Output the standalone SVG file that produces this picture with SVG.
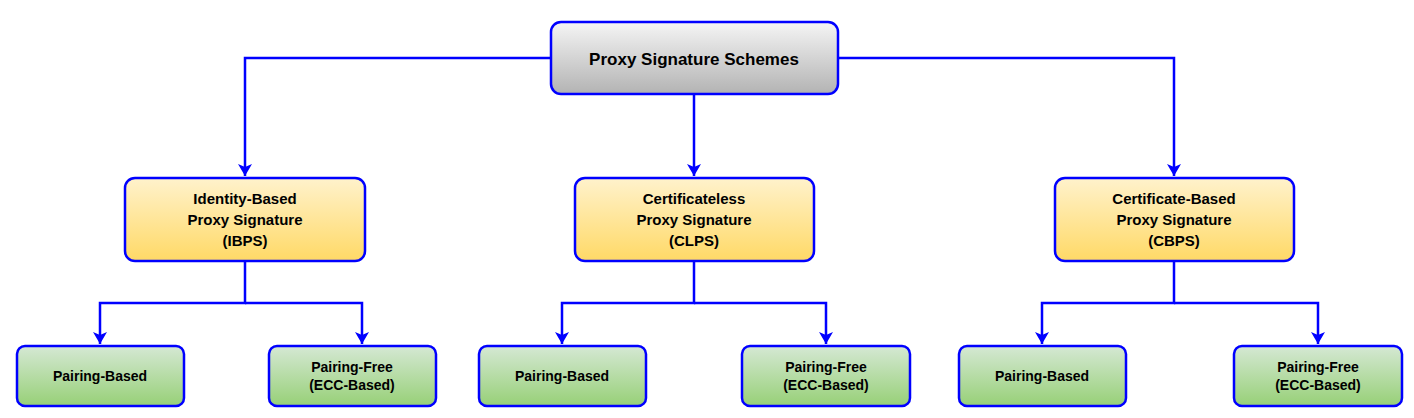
<svg xmlns="http://www.w3.org/2000/svg" width="1414" height="418" viewBox="0 0 1414 418">
<defs>
<linearGradient id="gGray" x1="0" y1="0" x2="0" y2="1"><stop offset="0" stop-color="#f5f5f5"/><stop offset="1" stop-color="#b3b3b3"/></linearGradient>
<linearGradient id="gYel" x1="0" y1="0" x2="0" y2="1"><stop offset="0" stop-color="#fff2cc"/><stop offset="1" stop-color="#ffd966"/></linearGradient>
<linearGradient id="gGrn" x1="0" y1="0" x2="0" y2="1"><stop offset="0" stop-color="#d5e8d4"/><stop offset="1" stop-color="#97d077"/></linearGradient>
<marker id="arr" markerWidth="12" markerHeight="12" refX="6" refY="10" orient="auto" markerUnits="userSpaceOnUse" viewBox="0 0 12 12"><path d="M0,0 L6,3 L12,0 L6,12 Z" transform="rotate(-90 6 6)" fill="#0000ff"/></marker>
<marker id="a" viewBox="0 0 12 14" refX="12" refY="7" markerWidth="12" markerHeight="14" orient="auto" markerUnits="userSpaceOnUse"><path d="M0,0 L12,7 L0,14 L3,7 Z" fill="#0000ff"/></marker>
</defs>
<style>
.b{stroke:#0000ff;stroke-width:2.5}
.t{font-family:"Liberation Sans",Arial,sans-serif;font-weight:bold;fill:#000;text-anchor:middle}
.c{fill:none;stroke:#0000ff;stroke-width:2.5;marker-end:url(#a)}
</style>
<g id="connectors">
<path class="c" d="M551,58 H245 V176"/>
<path class="c" d="M694,94 V176"/>
<path class="c" d="M838,58 H1174 V176"/>
<path class="c" d="M245,261 V303 H100 V344"/>
<path class="c" d="M245,303 H362 V344"/>
<path class="c" d="M694,261 V303 H562 V344"/>
<path class="c" d="M694,303 H826 V344"/>
<path class="c" d="M1174,261 V303 H1042 V344"/>
<path class="c" d="M1174,303 H1318 V344"/>
</g>
<g id="root"><rect class="b" x="551" y="22" width="287" height="72" rx="10" fill="url(#gGray)"/><text class="t" x="694" y="65" font-size="17">Proxy Signature Schemes</text></g>
<g id="ibps"><rect class="b" x="125" y="178" width="240" height="83" rx="10" fill="url(#gYel)"/><text class="t" x="245" y="204" font-size="15"><tspan x="245">Identity-Based</tspan><tspan x="245" dy="21">Proxy Signature</tspan><tspan x="245" dy="21">(IBPS)</tspan></text></g>
<g id="clps"><rect class="b" x="575" y="178" width="239" height="83" rx="10" fill="url(#gYel)"/><text class="t" x="694" y="204" font-size="15"><tspan x="694">Certificateless</tspan><tspan x="694" dy="21">Proxy Signature</tspan><tspan x="694" dy="21">(CLPS)</tspan></text></g>
<g id="cbps"><rect class="b" x="1055" y="178" width="239" height="83" rx="10" fill="url(#gYel)"/><text class="t" x="1174" y="204" font-size="15"><tspan x="1174">Certificate-Based</tspan><tspan x="1174" dy="21">Proxy Signature</tspan><tspan x="1174" dy="21">(CBPS)</tspan></text></g>
<g id="pb1"><rect class="b" x="17" y="346" width="167" height="60" rx="8" fill="url(#gGrn)"/><text class="t" x="100" y="381" font-size="14">Pairing-Based</text></g>
<g id="pf1"><rect class="b" x="269" y="346" width="167" height="60" rx="8" fill="url(#gGrn)"/><text class="t" x="352" y="372" font-size="14"><tspan x="352">Pairing-Free</tspan><tspan x="352" dy="18">(ECC-Based)</tspan></text></g>
<g id="pb2"><rect class="b" x="479" y="346" width="167" height="60" rx="8" fill="url(#gGrn)"/><text class="t" x="562" y="381" font-size="14">Pairing-Based</text></g>
<g id="pf2"><rect class="b" x="742" y="346" width="168" height="60" rx="8" fill="url(#gGrn)"/><text class="t" x="826" y="372" font-size="14"><tspan x="826">Pairing-Free</tspan><tspan x="826" dy="18">(ECC-Based)</tspan></text></g>
<g id="pb3"><rect class="b" x="959" y="346" width="167" height="60" rx="8" fill="url(#gGrn)"/><text class="t" x="1042" y="381" font-size="14">Pairing-Based</text></g>
<g id="pf3"><rect class="b" x="1234" y="346" width="168" height="60" rx="8" fill="url(#gGrn)"/><text class="t" x="1318" y="372" font-size="14"><tspan x="1318">Pairing-Free</tspan><tspan x="1318" dy="18">(ECC-Based)</tspan></text></g>
</svg>
